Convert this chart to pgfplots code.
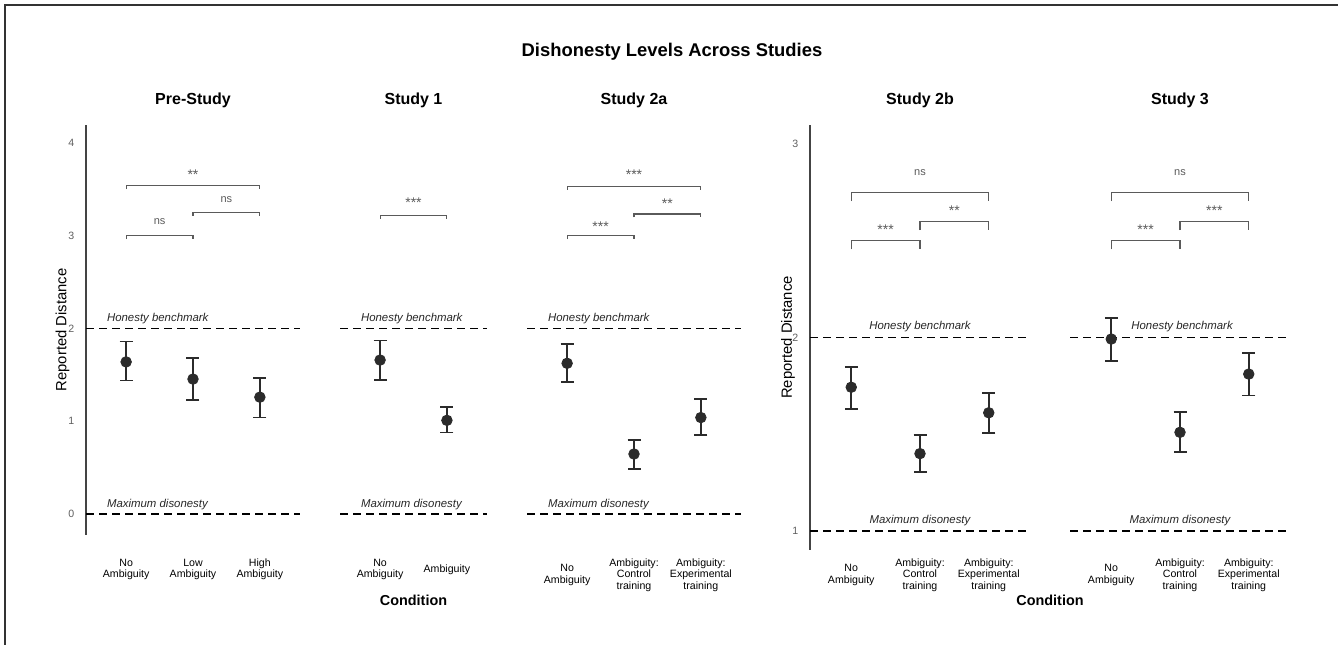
\documentclass[border=0pt]{standalone}
\usepackage{pgfplots}
\pgfplotsset{compat=1.18}
\usepackage{fontspec}
\setmainfont{Liberation Sans}
\definecolor{pt}{HTML}{2B2B2B}
\definecolor{brk}{HTML}{5A5A5A}
\definecolor{tickc}{HTML}{5E5E5E}
\definecolor{axc}{HTML}{444444}

\pgfplotsset{
  panel/.style={
    scale only axis,
    /pgf/number format/assume math mode=true,
    axis x line*=bottom, x axis line style={draw=none},
    axis y line*=left,
    y axis line style={draw=axc, line width=0.75bp},
    major tick length=0pt,
    xmin=0.4,
    clip=false,
    title style={at={(0.5,1)}, anchor=base, yshift=4.2bp, font=\fontsize{8bp}{9bp}\selectfont\bfseries},
    xticklabel style={align=center, anchor=center, font=\fontsize{5.3bp}{5.7bp}\selectfont, text=black},
    yticklabel style={font=\fontsize{5.3bp}{6bp}\selectfont, text=tickc, xshift=-2.3bp},
  },
  noyaxis/.style={y axis line style={draw=none}, ytick=\empty},
  leftg/.style={panel, height=205bp, ymin=-0.226, ymax=4.194},
  rightg/.style={panel, height=212.5bp, ymin=0.902, ymax=3.098},
  pts/.style={only marks, mark=*, mark size=2.65bp, color=pt,
    error bars/.cd, y dir=both, y explicit,
    error bar style={line width=0.9bp, color=pt},
    error mark options={rotate=90, mark size=3.25bp, line width=0.9bp, color=pt}},
  bench/.style={black, dash pattern=on 4bp off 2.5bp, line width=0.8bp},
  brkt/.style={brk, line width=0.55bp},
}
\tikzset{
  sig/.style={anchor=base, text=brk, font=\fontsize{5.5bp}{6bp}\selectfont},
  star/.style={anchor=base, text=brk, font=\fontsize{7bp}{7bp}\selectfont, yshift=-0.6bp},
  blab/.style={font=\fontsize{5.7bp}{6bp}\selectfont\itshape, text=black!85},
}

\begin{document}
\begin{tikzpicture}
\path[use as bounding box] (0,0) rectangle (669bp,322.5bp);
\draw[line width=0.9bp, black!80] (2.5bp,0) -- (2.5bp,320bp) -- (669bp,320bp);

\node[anchor=base, font=\fontsize{9.2bp}{10bp}\selectfont\bfseries] at (336bp,294.25bp) {Dishonesty Levels Across Studies};

% ---------------- Pre-Study
\begin{axis}[leftg, at={(43bp,55bp)}, anchor=south west, width=107bp,
  xmax=3.6, title={Pre-Study},
  ytick={0,1,2,3,4},
  xtick={1,2,3}, xticklabels={{No\\Ambiguity},{Low\\Ambiguity},{High\\Ambiguity}},
  xticklabel style={yshift=-17.25bp}]
\addplot[bench] coordinates {(0.4,2) (3.6,2)};
\addplot[bench] coordinates {(0.4,0) (3.6,0)};
\addplot[pts] coordinates {
  (1,1.64)  += (0,0.22)  -= (0,0.20)
  (2,1.455) += (0,0.23)  -= (0,0.225)
  (3,1.26)  += (0,0.21)  -= (0,0.22)
};
\addplot[brkt] coordinates {(1,3.504) (1,3.54) (3,3.54) (3,3.504)};
\addplot[brkt] coordinates {(2,3.214) (2,3.25) (3,3.25) (3,3.214)};
\addplot[brkt] coordinates {(1,2.964) (1,3.0) (2,3.0) (2,2.964)};
\node[star] at (axis cs:2,3.62) {**};
\node[sig] at (axis cs:2.5,3.36) {ns};
\node[sig] at (axis cs:1.5,3.116) {ns};
\node[blab, anchor=base west, yshift=3.5bp] at (axis cs:0.61,2) {Honesty benchmark};
\node[blab, anchor=base west, yshift=3.5bp] at (axis cs:0.61,0) {Maximum disonesty};
\end{axis}

% ---------------- Study 1
\begin{axis}[leftg, noyaxis, at={(170bp,55bp)}, anchor=south west, width=73.5bp,
  xmax=2.6, title={Study 1},
  xtick={1,2}, xticklabels={{No\\Ambiguity},{Ambiguity}},
  xticklabel style={yshift=-17.25bp}]
\addplot[bench] coordinates {(0.4,2) (2.6,2)};
\addplot[bench] coordinates {(0.4,0) (2.6,0)};
\addplot[pts] coordinates {
  (1,1.66) += (0,0.21) -= (0,0.215)
  (2,1.01) += (0,0.14) -= (0,0.13)
};
\addplot[brkt] coordinates {(1,3.184) (1,3.22) (2,3.22) (2,3.184)};
\node[star] at (axis cs:1.5,3.32) {***};
\node[blab, anchor=base west, yshift=3.5bp] at (axis cs:0.61,2) {Honesty benchmark};
\node[blab, anchor=base west, yshift=3.5bp] at (axis cs:0.61,0) {Maximum disonesty};
\end{axis}

% ---------------- Study 2a
\begin{axis}[leftg, noyaxis, at={(263.5bp,55bp)}, anchor=south west, width=107bp,
  xmax=3.6, title={Study 2a},
  xtick={1,2,3}, xticklabels={{No\\Ambiguity},{Ambiguity:\\Control\\training},{Ambiguity:\\Experimental\\training}},
  xticklabel style={yshift=-20bp}]
\addplot[bench] coordinates {(0.4,2) (3.6,2)};
\addplot[bench] coordinates {(0.4,0) (3.6,0)};
\addplot[pts] coordinates {
  (1,1.625) += (0,0.205) -= (0,0.205)
  (2,0.647) += (0,0.153) -= (0,0.162)
  (3,1.04)  += (0,0.20)  -= (0,0.19)
};
\addplot[brkt] coordinates {(1,3.494) (1,3.53) (3,3.53) (3,3.494)};
\addplot[brkt] coordinates {(2,3.199) (2,3.235) (3,3.235) (3,3.199)};
\addplot[brkt] coordinates {(1,2.964) (1,3.0) (2,3.0) (2,2.964)};
\node[star] at (axis cs:2,3.62) {***};
\node[star] at (axis cs:2.5,3.31) {**};
\node[star] at (axis cs:1.5,3.06) {***};
\node[blab, anchor=base west, yshift=3.5bp] at (axis cs:0.61,2) {Honesty benchmark};
\node[blab, anchor=base west, yshift=3.5bp] at (axis cs:0.61,0) {Maximum disonesty};
\end{axis}

% ---------------- Study 2b
\begin{axis}[rightg, at={(405bp,47.5bp)}, anchor=south west, width=110bp,
  xmax=3.6, title={Study 2b},
  ytick={1,2,3},
  xtick={1,2,3}, xticklabels={{No\\Ambiguity},{Ambiguity:\\Control\\training},{Ambiguity:\\Experimental\\training}},
  xticklabel style={yshift=-12.5bp}]
\addplot[bench] coordinates {(0.4,2) (3.6,2)};
\addplot[bench] coordinates {(0.4,1) (3.6,1)};
\addplot[pts] coordinates {
  (1,1.743) += (0,0.106) -= (0,0.113)
  (2,1.40)  += (0,0.096) -= (0,0.095)
  (3,1.611) += (0,0.104) -= (0,0.103)
};
\addplot[brkt] coordinates {(1,2.705) (1,2.75) (3,2.75) (3,2.705)};
\addplot[brkt] coordinates {(2,2.555) (2,2.60) (3,2.60) (3,2.555)};
\addplot[brkt] coordinates {(1,2.455) (1,2.50) (2,2.50) (2,2.455)};
\node[sig] at (axis cs:2,2.836) {ns};
\node[star] at (axis cs:2.5,2.638) {**};
\node[star] at (axis cs:1.5,2.536) {***};
\node[blab, anchor=base, yshift=4bp] at (axis cs:2,2) {Honesty benchmark};
\node[blab, anchor=base, yshift=4bp] at (axis cs:2,1) {Maximum disonesty};
\end{axis}

% ---------------- Study 3
\begin{axis}[rightg, noyaxis, at={(535bp,47.5bp)}, anchor=south west, width=110bp,
  xmax=3.6, title={Study 3},
  xtick={1,2,3}, xticklabels={{No\\Ambiguity},{Ambiguity:\\Control\\training},{Ambiguity:\\Experimental\\training}},
  xticklabel style={yshift=-12.5bp}]
\addplot[bench] coordinates {(0.4,2) (3.6,2)};
\addplot[bench] coordinates {(0.4,1) (3.6,1)};
\addplot[pts] coordinates {
  (1,1.992) += (0,0.107) -= (0,0.112)
  (2,1.51)  += (0,0.103) -= (0,0.103)
  (3,1.811) += (0,0.109) -= (0,0.111)
};
\addplot[brkt] coordinates {(1,2.705) (1,2.75) (3,2.75) (3,2.705)};
\addplot[brkt] coordinates {(2,2.555) (2,2.60) (3,2.60) (3,2.555)};
\addplot[brkt] coordinates {(1,2.455) (1,2.50) (2,2.50) (2,2.455)};
\node[sig] at (axis cs:2,2.836) {ns};
\node[star] at (axis cs:2.5,2.637) {***};
\node[star] at (axis cs:1.5,2.536) {***};
\node[blab, anchor=base, yshift=4bp] at (axis cs:2.03,2) {Honesty benchmark};
\node[blab, anchor=base, yshift=4bp] at (axis cs:2,1) {Maximum disonesty};
\end{axis}

% axis titles
\node[rotate=90, font=\fontsize{7.4bp}{8bp}\selectfont] at (31.25bp,157.5bp) {Reported Distance};
\node[rotate=90, font=\fontsize{7.4bp}{8bp}\selectfont] at (394bp,153.75bp) {Reported Distance};
\node[anchor=base, font=\fontsize{7.2bp}{8bp}\selectfont\bfseries] at (206.75bp,19.75bp) {Condition};
\node[anchor=base, font=\fontsize{7.2bp}{8bp}\selectfont\bfseries] at (525bp,19.75bp) {Condition};
\end{tikzpicture}
\end{document}
